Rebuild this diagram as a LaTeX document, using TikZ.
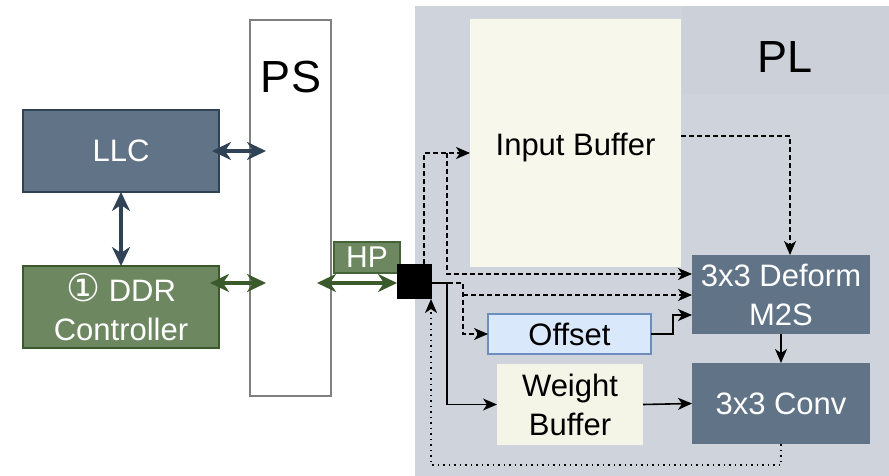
\documentclass[tikz,border=0pt]{standalone}
\usepackage{fontspec}
\setmainfont{Liberation Sans}
\newfontfamily\dejavu{DejaVu Sans}
\usetikzlibrary{arrows.meta}
\definecolor{plbg}{HTML}{CFD4DC}
\definecolor{plband}{HTML}{CBD0D9}
\definecolor{slate}{HTML}{617487}
\definecolor{slateline}{HTML}{2F4256}
\definecolor{olive}{HTML}{6D8761}
\definecolor{oliveline}{HTML}{3A5A2B}
\definecolor{cream}{HTML}{F8F7EC}
\definecolor{creamw}{HTML}{F4F4E7}
\definecolor{offfill}{HTML}{DAE8FC}
\definecolor{offline}{HTML}{6C8EBF}
\definecolor{psline}{HTML}{808080}
\tikzset{
  x=1pt, y=-1pt,
  every node/.style={inner sep=0pt, outer sep=0pt, align=center, font=\fontsize{31}{39}\selectfont},
  slatebox/.style={fill=slate, text=white},
  bigtip/.tip={Stealth[length=19pt,width=18pt,inset=6pt]},
  bigarr/.style={line width=3.2pt, bigtip-bigtip},
  smalltip/.tip={Stealth[length=14pt,width=12pt,inset=4pt]},
  smallarr/.style={line width=1.6pt, -smalltip},
  dasharr/.style={smallarr, dash pattern=on 5pt off 3pt},
  dotarr/.style={smallarr, dash pattern=on 1.5pt off 4pt},
}
\begin{document}
\begin{tikzpicture}
\useasboundingbox (0,0) rectangle (889,476);
% PL region
\fill[plbg] (415,6) rectangle (889,476);
\fill[plband] (682,6) rectangle (889,94);
\node (pl) at (785,57) {\fontsize{45}{50}\selectfont PL};
% PS
\node[draw=psline, line width=2pt, fill=white, minimum width=81pt, minimum height=376pt] (ps) at (290.5,208) {};
\node (pslabel) at (291,77) {\fontsize{45}{50}\selectfont PS};
% left boxes
\node[slatebox, draw=slateline, line width=2pt, minimum width=196pt, minimum height=82pt] (llc) at (121,151) {LLC};
\node[fill=olive, text=white, draw=oliveline, line width=2pt, minimum width=196pt, minimum height=82pt] (ddr) at (121,307) {{\dejavu\fontsize{38}{39}\selectfont ①} DDR\\Controller};
% HP and square
\node[fill=olive, text=white, draw=oliveline!80!olive, line width=1.2pt, minimum width=66pt, minimum height=31pt] (hp) at (367,257.5) {\fontsize{30}{30}\selectfont HP};
\node[fill=black, minimum width=35pt, minimum height=35pt] (sq) at (414.5,281.5) {};
% PL boxes
\node[fill=cream, minimum width=211pt, minimum height=248pt] (inbuf) at (575.5,143) {};
\node (inbuftext) at (575.5,148) {Input Buffer};
\node[slatebox, minimum width=178pt, minimum height=79pt] (deform) at (781,294.5) {3x3 Deform\\M2S};
\node[slatebox, minimum width=178pt, minimum height=81pt] (conv) at (781,403.5) {3x3 Conv};
\node[fill=offfill, draw=offline, line width=2pt, minimum width=163pt, minimum height=40pt] (offset) at (569.5,334) {Offset};
\node[fill=creamw, minimum width=146pt, minimum height=81pt] (wbuf) at (570,404.5) {Weight\\Buffer};
% coordinates
\coordinate (j1) at (447,153);
\coordinate (j2) at (463,295);
\coordinate (j3) at (673,315);
\coordinate (j4) at (790,136);
\coordinate (j5) at (431,465);
\coordinate (hpL) at (317,283);
\coordinate (sqR) at (432,283);
\coordinate (sqT) at (424,264);
% big arrows
\draw[bigarr, slateline] ([xshift=-7pt]llc.east) -- ([xshift=16pt]llc.east -| ps.west);
\draw[bigarr, slateline] (llc.south) -- (ddr.north);
\draw[bigarr, oliveline] ([xshift=-9pt]ddr.east |- hpL) -- ([xshift=16pt]ps.west |- hpL);
\draw[bigarr, oliveline] (hpL) -- (sq.west |- hpL);
% dashed connectors
\draw[dasharr] (sqT) |- (j1) -- (inbuf.west |- j1);
\draw[dasharr] (j1) |- (deform.west |- 0,274);
\draw[dasharr] (sqR) -| (offset.west -| j2) -- (offset.west);
\draw[dasharr] (j2) -- (deform.west |- j2);
\draw[dasharr] (inbuf.east |- j4) -- (j4) -- (deform.north -| j4);
% solid connectors
\draw[smallarr] (sqR) -| (wbuf.west -| j1) -- (wbuf.west);
\draw[smallarr] (offset.east) -| (j3) -- (deform.west |- j3);
\draw[smallarr] (deform.south) -- (conv.north);
\draw[smallarr] (wbuf.east) -- (conv.west);
% dotted feedback
\draw[dotarr] (conv.south) |- (j5) -- (sq.south -| j5);
\end{tikzpicture}
\end{document}
